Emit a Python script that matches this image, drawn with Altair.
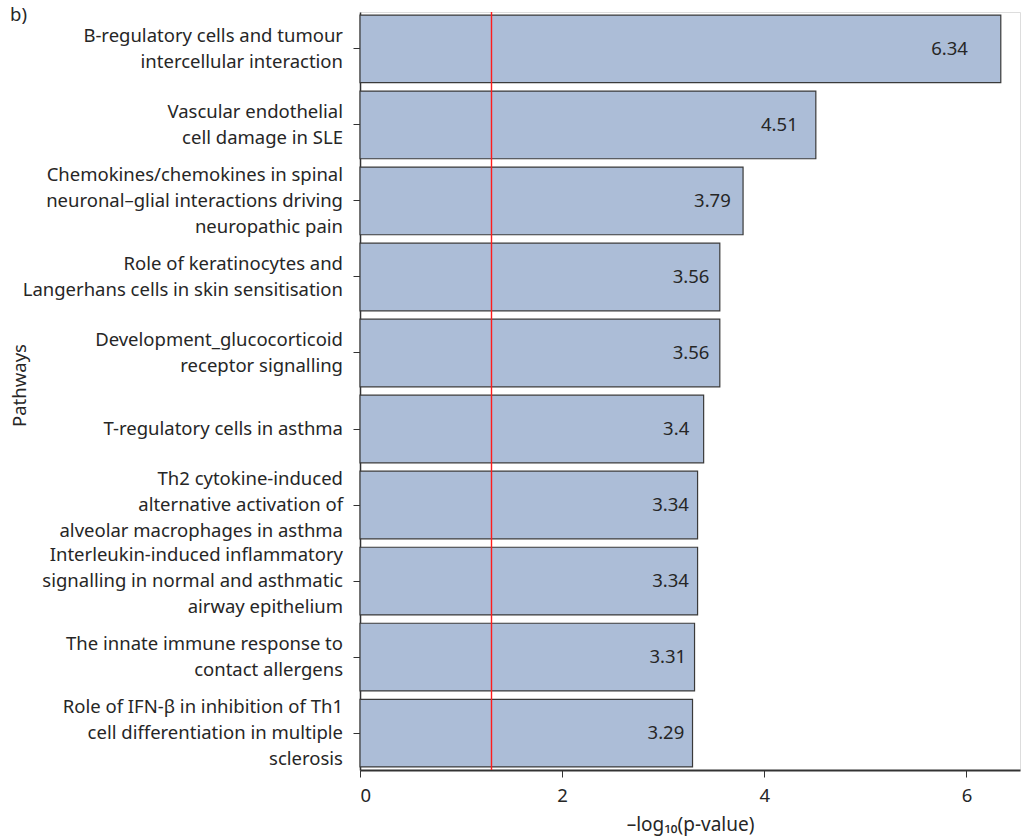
import altair as alt
import pandas as pd

# Enriched pathways (multi-line labels separated by "|") and their -log10(p) scores
pathways = [
    "B-regulatory cells and tumour|intercellular interaction",
    "Vascular endothelial|cell damage in SLE",
    "Chemokines/chemokines in spinal|neuronal\u2013glial interactions driving|neuropathic pain",
    "Role of keratinocytes and|Langerhans cells in skin sensitisation",
    "Development_glucocorticoid|receptor signalling",
    "T-regulatory cells in asthma",
    "Th2 cytokine-induced|alternative activation of|alveolar macrophages in asthma",
    "Interleukin-induced inflammatory|signalling in normal and asthmatic|airway epithelium",
    "The innate immune response to|contact allergens",
    "Role of IFN-\u03b2 in inhibition of Th1|cell differentiation in multiple|sclerosis",
]
scores = [6.34, 4.51, 3.79, 3.56, 3.56, 3.40, 3.34, 3.34, 3.31, 3.29]
score_labels = ["6.34", "4.51", "3.79", "3.56", "3.56", "3.4", "3.34", "3.34", "3.31", "3.29"]
threshold = [1.301]  # -log10(0.05)

FONT = "Noto Sans"
INK = "#262626"
FS = 18.5
LINE_H = 26

df = pd.DataFrame({"pathway": pathways, "score": scores, "label": score_labels})
df["nlines"] = df["pathway"].str.count(r"\|") + 1
thr = pd.DataFrame({"cut": threshold})

x_scale = alt.Scale(domain=[0, 6.53], nice=False, zero=True)
y_scale = alt.Scale(paddingInner=0.11, paddingOuter=0.04)

bars = alt.Chart(df).mark_bar(
    color="#acbdd7", stroke="#3a3a3a", strokeWidth=1.2
).encode(
    x=alt.X(
        "score:Q",
        scale=x_scale,
        axis=alt.Axis(
            title="\u2013log\u2081\u2080(p-value)",
            titleFont=FONT,
            titleFontSize=19,
            titleFontWeight="normal",
            titleColor=INK,
            titlePadding=11,
            values=[0, 2, 4, 6],
            format="d",
            grid=False,
            labelFont=FONT,
            labelFontSize=FS,
            labelColor=INK,
            labelPadding=9,
            tickSize=7,
            tickColor="#333333",
            domainColor="#333333",
            domainWidth=2,
        ),
    ),
    y=alt.Y(
        "pathway:N",
        sort=pathways,
        scale=y_scale,
        axis=alt.Axis(
            title="Pathways",
            titleFont=FONT,
            titleFontSize=FS,
            titleFontWeight="normal",
            titleColor=INK,
            titleBaseline="middle",
            titleX=-341,
            titleY=373,
            titleAngle=-90,
            labels=False,
            tickSize=7,
            tickColor="#333333",
            domainColor="#333333",
            domainWidth=1.5,
        ),
    ),
)

# Category names drawn as right-aligned, vertically centred multi-line text
name_layers = []
for n in (1, 2, 3):
    name_layers.append(
        alt.Chart(df).transform_filter(f"datum.nlines == {n}").mark_text(
            font=FONT, fontSize=FS, color=INK, align="right", baseline="middle",
            lineBreak="|", lineHeight=LINE_H, dy=-(n - 1) * LINE_H / 2,
        ).encode(
            x=alt.value(-17),
            y=alt.Y("pathway:N", sort=pathways, scale=y_scale),
            text="pathway:N",
        )
    )

values_text = alt.Chart(df).transform_calculate(
    pos="datum.score * 0.92"
).mark_text(
    font=FONT, fontSize=FS, color=INK, align="center", baseline="middle"
).encode(
    x=alt.X("pos:Q", scale=x_scale),
    y=alt.Y("pathway:N", sort=pathways, scale=y_scale),
    text="label:N",
)

# Significance cut-off at p = 0.05
cutoff = alt.Chart(thr).mark_rule(color="#ff1c1c", strokeWidth=1.4).encode(
    x=alt.X("cut:Q", scale=x_scale)
)

panel_tag = alt.Chart(thr).mark_text(
    text="b)", font=FONT, fontSize=FS, color=INK, align="left", baseline="top"
).encode(x=alt.value(-350), y=alt.value(-6))

chart = alt.layer(bars, *name_layers, values_text, cutoff, panel_tag).properties(
    width=660,
    height=758,
    autosize=alt.AutoSizeParams(type="none"),
    padding={"left": 360, "top": 12, "right": 4, "bottom": 69},
).configure_view(stroke=None).configure(background="white")

chart.save("out.html", embed_options={"renderer": "svg", "actions": False})
